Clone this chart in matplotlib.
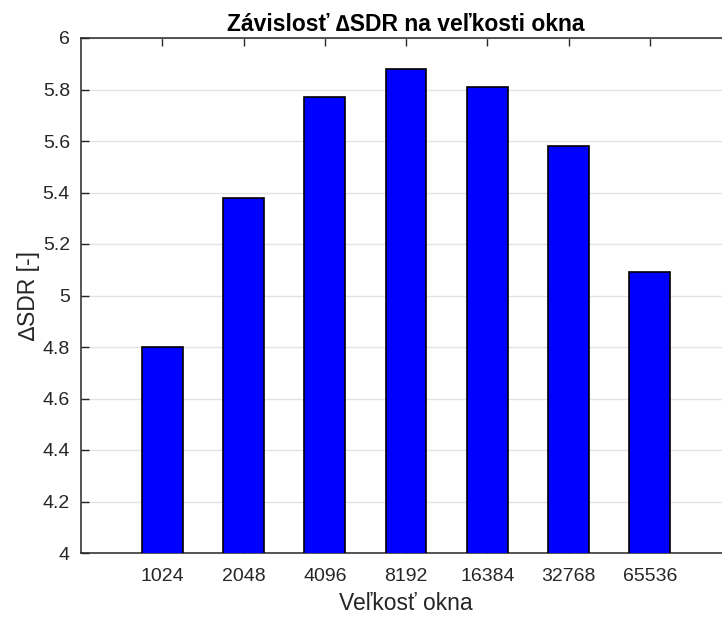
import matplotlib
matplotlib.use("Agg")
import matplotlib.pyplot as plt
import numpy as np

plt.rcParams['font.family'] = ['Liberation Sans', 'DejaVu Sans']

categories = ["1024", "2048", "4096", "8192", "16384", "32768", "65536"]
values = [4.80, 5.38, 5.77, 5.88, 5.81, 5.58, 5.09]
yticks = [4, 4.2, 4.4, 4.6, 4.8, 5, 5.2, 5.4, 5.6, 5.8, 6]
ytick_labels = ["4", "4.2", "4.4", "4.6", "4.8", "5", "5.2", "5.4", "5.6", "5.8", "6"]

fig = plt.figure(figsize=(7.22, 6.17), dpi=100)
W, H = 722, 617
left, right, top, bottom = 81, 731, 38, 553
ax = fig.add_axes([left / W, 1 - bottom / H, (right - left) / W, (bottom - top) / H])

x = np.arange(1, len(categories) + 1)
ax.bar(x, values, width=0.5, color=(0, 0, 1), edgecolor='black', linewidth=1.2, zorder=3)

ax.set_xlim(0, 8)
ax.set_ylim(4, 6)
ax.set_xticks(x)
ax.set_xticklabels(categories)
ax.set_yticks(yticks)
ax.set_yticklabels(ytick_labels)

ax.yaxis.grid(True, color='#e3e3e3', linewidth=1.0, zorder=0)
ax.set_axisbelow(True)

spine_col = '#262626'
for s in ax.spines.values():
    s.set_color(spine_col)
    s.set_linewidth(1.1)

ax.tick_params(axis='both', direction='in', colors=spine_col, labelcolor='#262626',
               labelsize=14, length=6, width=1.0, top=True, right=True)
ax.tick_params(axis='x', pad=11)
ax.tick_params(axis='y', pad=8)

ax.set_title("Závislosť ∆SDR na veľkosti okna", fontsize=16.5, fontweight='bold', pad=5)
ax.set_xlabel("Veľkosť okna", fontsize=16.5, color='#262626', labelpad=5)
ax.set_ylabel("∆SDR [-]", fontsize=16.5, color='#262626', labelpad=2)

fig.savefig("out.png", dpi=100)
